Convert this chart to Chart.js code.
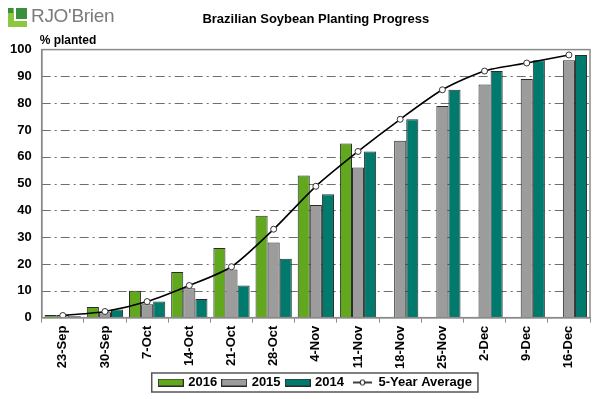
<!DOCTYPE html>
<html><head><meta charset="utf-8">
<script src="https://cdn.jsdelivr.net/npm/chart.js@4/dist/chart.umd.min.js"></script>
<style>
html,body{margin:0;padding:0;background:#fff;}
#wrap{position:relative;width:597px;height:399px;}
#logo{position:absolute;left:7px;top:6px;height:24px;}
.ic1{position:absolute;left:1px;top:2px;width:19px;height:19px;background:#8dc63f;}
.ic2{position:absolute;left:7px;top:2px;width:13px;height:13px;background:#fff;}
.ic3{position:absolute;left:9px;top:2px;width:11px;height:11px;background:#3a8f3f;}
.ic4{position:absolute;left:1px;top:2px;width:5px;height:5px;background:#3a8f3f;}
#logotext{position:absolute;left:24px;top:-1px;font-family:"Liberation Sans",Arial,sans-serif;font-size:19px;color:#7a7b7e;letter-spacing:-0.3px;white-space:nowrap;}
</style></head>
<body><div id="wrap">
<canvas id="c" width="597" height="399"></canvas>
<div id="logo"><div class="ic1"></div><div class="ic2"></div><div class="ic3"></div><div class="ic4"></div><div id="logotext">RJO'Brien</div></div>
</div>
<script>
const categories = ['23-Sep','30-Sep','7-Oct','14-Oct','21-Oct','28-Oct','4-Nov','11-Nov','18-Nov','25-Nov','2-Dec','9-Dec','16-Dec'];
const y2016 = [1, 4, 10, 17, 26, 38, 53, 65, null, null, null, null, null];
const y2015 = [1, 2, 5, 11, 18, 28, 42, 56, 66, 79, 87, 89, 96];
const y2014 = [0.5, 3, 6, 7, 12, 22, 46, 62, 74, 85, 92, 96, 98];
const avg5 = [0.8, 2.3, 6, 12, 19, 33, 49, 62, 74, 85, 92, 95, 98];
const yTicks = [0,10,20,30,40,50,60,70,80,90,100];
const legendOrder = ['2016','2015','2014','5-Year Average'];

const C16 = '#62a81f', C15 = '#9c9c9c', C14 = '#007a6c', EDGE = '#2b2b2b';

function swatch(color){
  const cv = document.createElement('canvas'); cv.width = 26; cv.height = 8;
  const x = cv.getContext('2d');
  x.fillStyle = color; x.fillRect(0.5,0.5,25,7);
  x.strokeStyle = EDGE; x.lineWidth = 1; x.strokeRect(0.5,0.5,25,7);
  return cv;
}
function lineSw(){
  const cv = document.createElement('canvas'); cv.width = 26; cv.height = 8;
  const x = cv.getContext('2d');
  x.strokeStyle = '#000'; x.lineWidth = 1.5;
  x.beginPath(); x.moveTo(5,4); x.lineTo(24,4); x.stroke();
  x.fillStyle = '#fff'; x.lineWidth = 1;
  x.beginPath(); x.arc(14.5,4,2.5,0,Math.PI*2); x.fill(); x.stroke();
  return cv;
}
const legendStyles = {'2016':swatch(C16),'2015':swatch(C15),'2014':swatch(C14),'5-Year Average':lineSw()};

const frame = {
  id:'frame',
  beforeDatasetsDraw(chart){
    const {ctx, chartArea:a, scales:{y}} = chart;
    ctx.save();
    ctx.strokeStyle = '#6e6e6e'; ctx.lineWidth = 1;
    ctx.setLineDash([9,4,2,4]);
    yTicks.forEach(v=>{
      if (v===0 || v===100) return;
      const py = Math.round(y.getPixelForValue(v))+0.5;
      ctx.beginPath(); ctx.moveTo(a.left, py); ctx.lineTo(a.right, py); ctx.stroke();
    });
    ctx.restore();
  },
  afterDraw(chart){
    const {ctx, chartArea:a} = chart;
    ctx.save();
    ctx.strokeStyle = '#8a8a8a'; ctx.lineWidth = 1.5;
    ctx.strokeRect(a.left, a.top, a.right-a.left, a.bottom-a.top);
    ctx.fillStyle = '#000';
    ctx.font = 'bold 12px "Liberation Sans", Arial, sans-serif';
    ctx.textAlign = 'left'; ctx.textBaseline = 'bottom';
    ctx.fillText('% planted', a.left-2, a.top-3);
    const hb = chart.legend.legendHitBoxes;
    if (hb && hb.length){
      let l = Infinity, r = -Infinity, t = Infinity, b = -Infinity;
      hb.forEach(h => { l=Math.min(l,h.left); r=Math.max(r,h.left+h.width); t=Math.min(t,h.top); b=Math.max(b,h.top+h.height); });
      ctx.strokeStyle = '#555'; ctx.lineWidth = 1.5;
      ctx.strokeRect(l-8, t-3, r-l+14, b-t+6);
    }
    ctx.restore();
  }
};

new Chart(document.getElementById('c'), {
  data: {
    labels: categories,
    datasets: [
      {type:'bar', label:'2016', data:y2016, backgroundColor:C16, borderColor:EDGE, borderWidth:1, order:1},
      {type:'bar', label:'2015', data:y2015, backgroundColor:C15, borderColor:EDGE, borderWidth:1, order:1},
      {type:'bar', label:'2014', data:y2014, backgroundColor:C14, borderColor:EDGE, borderWidth:1, order:1},
      {type:'line', label:'5-Year Average', data: avg5, borderColor:'#000', borderWidth:1.6, tension:0.25,
       pointStyle:'circle', pointRadius:3, pointBackgroundColor:'#fff', pointBorderColor:'#333', pointBorderWidth:1, order:0}
    ]
  },
  options: {
    responsive:false, animation:false,
    layout:{padding:{left:0, right:7, top:8, bottom:0}},
    datasets:{bar:{categoryPercentage:0.86, barPercentage:1}},
    scales:{
      x:{
        offset:true,
        afterFit(s){ s.height -= 2; },
        grid:{display:true, offset:true, drawOnChartArea:false, drawTicks:true, tickLength:5, color:'#8a8a8a', lineWidth:1},
        border:{display:true, color:'#8a8a8a', width:1.5},
        ticks:{minRotation:90, maxRotation:90, autoSkip:false, color:'#000', padding:3,
          font:{family:'"Liberation Sans", Arial, sans-serif', size:13, weight:'bold'}}
      },
      y:{
        min:0, max:100,
        afterBuildTicks(s){ s.ticks = yTicks.map(v=>({value:v})); },
        grid:{display:false, drawTicks:false},
        border:{display:true, color:'#8a8a8a', width:1.5},
        ticks:{color:'#000', padding:10, font:{family:'"Liberation Sans", Arial, sans-serif', size:13, weight:'bold'}}
      }
    },
    plugins:{
      title:{display:true, text:'Brazilian Soybean Planting Progress', color:'#000', fullSize:false,
        font:{family:'"Liberation Sans", Arial, sans-serif', size:13, weight:'bold'}, padding:{top:4, bottom:22}},
      legend:{position:'bottom', fullSize:false,
        labels:{usePointStyle:true, pointStyleWidth:22, boxHeight:8, padding:6, color:'#000',
          font:{family:'"Liberation Sans", Arial, sans-serif', size:13, weight:'bold'},
          sort:(a,b)=>legendOrder.indexOf(a.text)-legendOrder.indexOf(b.text),
          generateLabels(chart){
            const items = Chart.defaults.plugins.legend.labels.generateLabels(chart);
            items.forEach(it=>{ it.pointStyle = legendStyles[it.text]; });
            return items;
          }}},
      tooltip:{enabled:false}
    }
  },
  plugins:[frame]
});
</script>
</body></html>
